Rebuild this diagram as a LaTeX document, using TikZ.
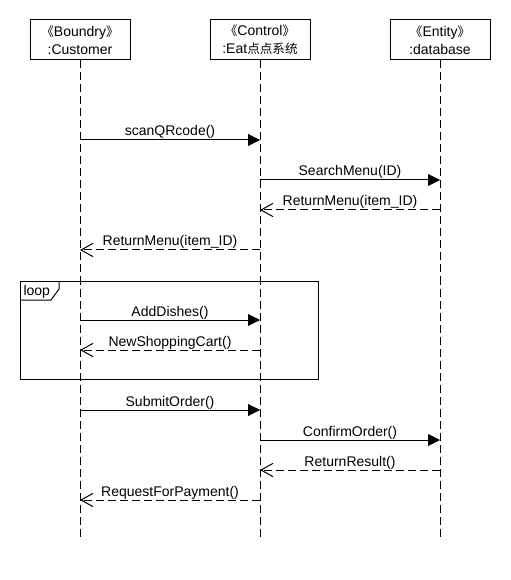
\documentclass[tikz,border=0pt]{standalone}
\usepackage{fontspec}
\setmainfont{Liberation Sans}
\newfontfamily\cjk[Scale=0.9]{Noto Sans CJK SC}
\usetikzlibrary{arrows.meta}
\newcommand{\stereo}[1]{\hspace*{-4.5pt}{\cjk 《}#1{\cjk 》}\hspace*{-4.5pt}}

\begin{document}
\begin{tikzpicture}[x=0.75pt, y=-0.75pt, line width=0.75pt,
    font=\fontsize{10.5pt}{13.5pt}\selectfont,
    head/.style={draw, minimum width=75pt, minimum height=30pt, inner sep=0pt, align=center},
    lifeline/.style={dash pattern=on 6pt off 3pt},
    call/.style={-{Triangle[length=9pt, width=9pt]}},
    reply/.style={dash pattern=on 6pt off 3pt, -{Straight Barb[length=9pt, width=10pt]}},
    lbl/.style={anchor=base, yshift=3pt, inner sep=0pt}]
  \useasboundingbox (0,0) rectangle (510,580);
  % heads
  \node[head] (cust) at (80,40) {\stereo{Boundry}\\:Customer};
  \node[head] (ctrl) at (260,40) {\stereo{Control}\\:Eat{\cjk 点点系统}};
  \node[head] (db) at (440,40) {\stereo{Entity}\\:database};
  \coordinate (tend) at (0,540);
  % lifelines
  \draw[lifeline] (cust.south) -- (cust |- tend);
  \draw[lifeline] (ctrl.south) -- (ctrl |- tend);
  \draw[lifeline] (db.south) -- (db |- tend);
  % loop frame
  \draw (20,281) rectangle (318,379);
  \draw (20,300) -- (51,300) -- (59,289) -- (59,281);
  \node[anchor=base west, inner sep=0pt] (looplbl) at (23,296) {loop};
  % messages
  \draw[call] (cust |- 0,140) -- node[lbl] {scanQRcode()} (ctrl |- 0,140);
  \draw[call] (ctrl |- 0,180) -- node[lbl] {SearchMenu(ID)} (db |- 0,180);
  \draw[reply] (db |- 0,210) -- node[lbl] {ReturnMenu(item\_ID)} (ctrl |- 0,210);
  \draw[reply] (ctrl |- 0,250) -- node[lbl] {ReturnMenu(item\_ID)} (cust |- 0,250);
  \draw[call] (cust |- 0,320) -- node[lbl] {AddDishes()} (ctrl |- 0,320);
  \draw[reply] (ctrl |- 0,350) -- node[lbl] {NewShoppingCart()} (cust |- 0,350);
  \draw[call] (cust |- 0,410) -- node[lbl] {SubmitOrder()} (ctrl |- 0,410);
  \draw[call] (ctrl |- 0,440) -- node[lbl] {ConfirmOrder()} (db |- 0,440);
  \draw[reply] (db |- 0,470) -- node[lbl] {ReturnResult()} (ctrl |- 0,470);
  \draw[reply] (ctrl |- 0,500) -- node[lbl] {RequestForPayment()} (cust |- 0,500);
\end{tikzpicture}
\end{document}
